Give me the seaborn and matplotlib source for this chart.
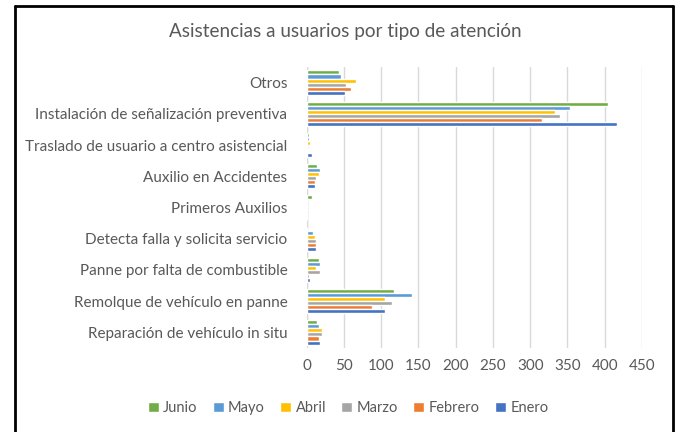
import matplotlib
matplotlib.use("Agg")
import matplotlib.pyplot as plt
import pandas as pd
import seaborn as sns

categorias = [
    "Otros",
    "Instalación de señalización preventiva",
    "Traslado de usuario a centro asistencial",
    "Auxilio en Accidentes",
    "Primeros Auxilios",
    "Detecta falla y solicita servicio",
    "Panne por falta de combustible",
    "Remolque de vehículo en panne",
    "Reparación de vehículo in situ",
]
meses = ["Junio", "Mayo", "Abril", "Marzo", "Febrero", "Enero"]

junio = [44, 405, 3, 14, 7, 1, 16, 117, 14]
mayo = [46, 353, 3, 18, 1, 8, 18, 141, 16]
abril = [66, 333, 5, 16, 1, 11, 12, 105, 21]
marzo = [53, 340, 1, 12, 1, 12, 18, 115, 20]
febrero = [60, 316, 2, 11, 1, 12, 3, 88, 16]
enero = [51, 416, 7, 11, 0, 12, 5, 105, 18]

colores = ["#70AD47", "#5B9BD5", "#FFC000", "#A5A5A5", "#ED7D31", "#4472C4"]

series = [junio, mayo, abril, marzo, febrero, enero]
rows = []
for mes, vals in zip(meses, series):
    for cat, v in zip(categorias, vals):
        rows.append({"categoria": cat, "mes": mes, "valor": v})
df = pd.DataFrame(rows)

sns.set_style("white")
plt.rcParams["font.family"] = ["Lato", "DejaVu Sans"]
texto = "#595959"

fig = plt.figure(figsize=(6.81, 4.32), dpi=100)
ax = fig.add_axes([306.7 / 681, 1 - 348 / 432, (642 - 306.7) / 681, (348 - 67) / 432])

sns.barplot(data=df, y="categoria", x="valor", hue="mes", order=categorias,
            hue_order=meses, palette=colores, orient="h", width=0.78,
            saturation=1, ax=ax, errorbar=None)

ax.set_xlim(0, 450)
ax.set_xticks(range(0, 451, 50))
ax.grid(axis="x", color="#D9D9D9", linewidth=1)
ax.set_axisbelow(True)
for s in ax.spines.values():
    s.set_visible(False)
ax.axvline(0, color="#D9D9D9", linewidth=1, zorder=0)
ax.set_xlabel("")
ax.set_ylabel("")
ax.tick_params(axis="both", length=0, colors=texto, labelsize=11)
ax.tick_params(axis="x", pad=8)
ax.tick_params(axis="y", pad=14)

handles, labels = ax.get_legend_handles_labels()
ax.get_legend().remove()
fig.legend(handles, labels, loc="center", bbox_to_anchor=(348 / 681, 1 - 408 / 432),
           ncol=6, frameon=False, fontsize=10.5, handlelength=0.75, handleheight=0.75,
           handletextpad=0.3, columnspacing=1.05, labelcolor=texto)

fig.text(345 / 681, 1 - 32 / 432, "Asistencias a usuarios por tipo de atención",
         ha="center", va="center", fontsize=13.6, color=texto)

# marco negro alrededor del gráfico (sin borde inferior)
fig.add_artist(plt.Line2D([15 / 681, 15 / 681], [0, 1 - 5.5 / 432], color="black", linewidth=2,
                          transform=fig.transFigure))
fig.add_artist(plt.Line2D([15 / 681, 673 / 681], [1 - 5.5 / 432, 1 - 5.5 / 432], color="black",
                          linewidth=2, transform=fig.transFigure))
fig.add_artist(plt.Line2D([673 / 681, 673 / 681], [0, 1 - 5.5 / 432], color="black", linewidth=2,
                          transform=fig.transFigure))

fig.savefig("out.png", dpi=100)
